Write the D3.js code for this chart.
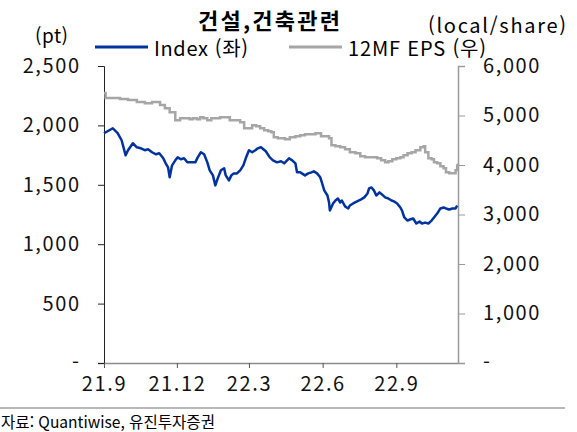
<!DOCTYPE html>
<html lang="ko">
  <head>
    <meta charset="utf-8">
    <title>건설,건축관련</title>
    <style type="text/css">
        body {
            margin: 0px;
            padding: 0px;
            background: white;
        }
        svg {
            display: block;
            font-family: "Noto Sans CJK KR", "Noto Sans", sans-serif;
        }
    </style>
    <script src="https://cdn.jsdelivr.net/npm/d3@7"></script>
  </head>

<body>
<div id="root"></div>

<script>
  // Index (left axis, pt)
  var indexDates = ["2021-09-01","2021-09-12","2021-09-18","2021-09-23","2021-09-28","2021-10-01","2021-10-07","2021-10-12",
    "2021-10-17","2021-10-22","2021-10-26","2021-10-31","2021-11-05","2021-11-09","2021-11-14","2021-11-17","2021-11-20",
    "2021-11-22","2021-11-25","2021-11-29","2021-12-02","2021-12-06","2021-12-10","2021-12-14","2021-12-19","2021-12-24",
    "2021-12-27","2021-12-31","2022-01-04","2022-01-08","2022-01-11","2022-01-15","2022-01-18","2022-01-21","2022-01-25",
    "2022-01-29","2022-01-31","2022-02-04","2022-02-07","2022-02-10","2022-02-14","2022-02-18","2022-02-22","2022-02-25",
    "2022-03-01","2022-03-05","2022-03-09","2022-03-12","2022-03-16","2022-03-19","2022-03-22","2022-03-27","2022-03-31",
    "2022-04-05","2022-04-10","2022-04-14","2022-04-20","2022-04-24","2022-04-28","2022-04-30","2022-05-04","2022-05-06",
    "2022-05-10","2022-05-14","2022-05-18","2022-05-21","2022-05-25","2022-05-29","2022-05-31","2022-06-03","2022-06-07",
    "2022-06-09","2022-06-10","2022-06-14","2022-06-17","2022-06-20","2022-06-23","2022-06-25","2022-06-29","2022-07-03",
    "2022-07-05","2022-07-09","2022-07-14","2022-07-19","2022-07-23","2022-07-27","2022-07-29","2022-08-01","2022-08-04",
    "2022-08-07","2022-08-11","2022-08-14","2022-08-18","2022-08-22","2022-08-26","2022-08-29","2022-09-02","2022-09-06",
    "2022-09-08","2022-09-11","2022-09-15","2022-09-18","2022-09-22","2022-09-26","2022-09-30","2022-10-03","2022-10-07",
    "2022-10-11","2022-10-15","2022-10-18","2022-10-22","2022-10-26","2022-10-30","2022-11-02","2022-11-06","2022-11-10",
    "2022-11-14","2022-11-16"];
  var indexValues = [1934,1976,1934,1875,1748,1791,1850,1816,
    1807,1791,1799,1774,1757,1765,1723,1681,1647,
    1563,1664,1706,1731,1715,1723,1689,1689,1689,
    1731,1774,1757,1689,1622,1579,1495,1554,1622,
    1639,1579,1537,1579,1596,1596,1622,1664,1723,
    1791,1774,1791,1807,1816,1799,1782,1731,1706,
    1689,1698,1681,1723,1706,1681,1605,1605,1596,
    1579,1596,1605,1613,1596,1563,1520,1453,1410,
    1351,1284,1343,1368,1385,1351,1368,1318,1301,
    1326,1343,1360,1377,1394,1427,1470,1478,1453,
    1410,1436,1419,1394,1385,1368,1360,1343,1309,
    1284,1225,1199,1208,1216,1174,1191,1174,1182,
    1174,1199,1225,1258,1301,1309,1301,1292,1301,
    1301,1326];

  // 12MF EPS (right axis, local/share)
  var epsDates = ["2021-09-01","2021-09-03","2021-09-21","2021-10-01","2021-10-12","2021-10-22","2021-10-31","2021-11-10",
    "2021-11-16","2021-11-22","2021-11-29","2021-12-05","2021-12-17","2021-12-21","2021-12-26","2021-12-30","2022-01-03",
    "2022-01-08","2022-01-13","2022-01-24","2022-02-05","2022-02-18","2022-02-23","2022-03-05","2022-03-10","2022-03-15",
    "2022-03-20","2022-03-25","2022-03-29","2022-04-01","2022-04-06","2022-04-15","2022-04-21","2022-04-28","2022-05-04",
    "2022-05-10","2022-05-23","2022-05-30","2022-06-09","2022-06-12","2022-06-17","2022-06-23","2022-06-29","2022-07-05",
    "2022-07-12","2022-07-18","2022-07-24","2022-08-08","2022-08-13","2022-08-18","2022-08-22","2022-08-27","2022-09-01",
    "2022-09-06","2022-09-10","2022-09-15","2022-09-20","2022-09-25","2022-10-01","2022-10-05","2022-10-07","2022-10-11",
    "2022-10-15","2022-10-18","2022-10-22","2022-10-26","2022-10-30","2022-11-02","2022-11-06","2022-11-14","2022-11-16",
    "2022-11-17"];
  var epsValues = [5453,5352,5331,5311,5271,5250,5271,5210,
    5149,5068,4906,4946,4926,4946,4926,4967,4946,
    4906,4946,4967,4906,4865,4744,4804,4784,4744,
    4703,4683,4663,4561,4541,4521,4561,4581,4602,
    4622,4642,4581,4541,4399,4379,4358,4318,4257,
    4237,4176,4156,4135,4095,4054,4075,4115,4135,
    4156,4196,4237,4257,4298,4358,4379,4257,4135,
    4115,4054,4034,3973,3933,3852,3831,3892,3992,
    4030];

  var leftTicks = [0, 500, 1000, 1500, 2000, 2500];
  var rightTicks = [0, 1000, 2000, 3000, 4000, 5000, 6000];
  var xTicks = ["2021-09-01", "2021-12-01", "2022-03-01", "2022-06-01", "2022-09-01"];

  var parse = d3.timeParse("%Y-%m-%d");
  var index = indexDates.map(function(d, i) { return {date: parse(d), value: indexValues[i]}; });
  var eps = epsDates.map(function(d, i) { return {date: parse(d), value: epsValues[i]}; });

  var svg = d3.select("#root")
    .append("svg")
    .attr("width", 577)
    .attr("height", 432);

  var x = d3.scaleTime()
    .domain([parse("2021-09-01"), parse("2022-11-17")])
    .range([104, 458]);
  var yL = d3.scaleLinear().domain([0, 2500]).range([363, 66]);
  var yR = d3.scaleLinear().domain([0, 6000]).range([363, 66]);

  var numFmt = function(d) { return d === 0 ? "-" : d3.format(",")(d); };

  // axes
  var gx = svg.append("g")
    .attr("transform", "translate(0,363)")
    .call(d3.axisBottom(x)
      .tickValues(xTicks.map(parse))
      .tickSize(5)
      .tickPadding(9)
      .tickFormat(d3.timeFormat("%y.%-m")));
  gx.select(".domain").attr("d", "M98,0.5H465").attr("stroke", "#8c8c8c").attr("stroke-width", 1.5);
  gx.selectAll(".tick line").attr("stroke", "#555");

  var gl = svg.append("g")
    .attr("transform", "translate(104,0)")
    .call(d3.axisLeft(yL).tickValues(leftTicks).tickSize(6).tickPadding(19).tickFormat(numFmt));
  gl.select(".domain").attr("d", "M-6,66.5H0.5V363").attr("stroke", "#222");
  gl.selectAll(".tick line").attr("stroke", "#222");

  var gr = svg.append("g")
    .attr("transform", "translate(458,0)")
    .call(d3.axisRight(yR).tickValues(rightTicks).tickSize(7).tickPadding(18).tickFormat(numFmt));
  gr.select(".domain").attr("d", "M7,66.5H0.5V363").attr("stroke", "#9a9a9a").attr("stroke-width", 1.5);
  gr.selectAll(".tick line").attr("stroke", "#9a9a9a");

  svg.selectAll(".tick text")
    .style("font-family", "'Noto Sans CJK KR', sans-serif")
    .style("font-size", "20px")
    .style("letter-spacing", "1.6px")
    .attr("fill", "#111");
  // letter-spacing adds a trailing gap, pull right-aligned labels back
  gl.selectAll(".tick text").attr("dx", "1.6px");

  // lines
  svg.append("path")
    .datum(eps)
    .attr("fill", "none")
    .attr("stroke", "#a6a6a6")
    .attr("stroke-width", 2.5)
    .attr("d", d3.line()
      .curve(d3.curveStepAfter)
      .x(function(d) { return x(d.date); })
      .y(function(d) { return yR(d.value); }));

  svg.append("path")
    .datum(index)
    .attr("fill", "none")
    .attr("stroke", "#0033a0")
    .attr("stroke-width", 2.5)
    .attr("stroke-linejoin", "round")
    .attr("d", d3.line()
      .x(function(d) { return x(d.date); })
      .y(function(d) { return yL(d.value); }));

  // title, units, legend
  svg.append("text")
    .attr("x", 269).attr("y", 29)
    .attr("text-anchor", "middle")
    .attr("textLength", 142)
    .style("font-size", "22px")
    .style("font-weight", "bold")
    .text("건설,건축관련");

  svg.append("text").attr("x", 35).attr("y", 43)
    .attr("textLength", 33)
    .style("font-size", "19px").text("(pt)");
  svg.append("text").attr("x", 428).attr("y", 33)
    .attr("textLength", 138)
    .style("font-size", "20px").text("(local/share)");

  var legend = [["Index (좌)", "#0033a0", 95, 94], ["12MF EPS (우)", "#a6a6a6", 289, 138]];
  legend.forEach(function(l) {
    svg.append("line")
      .attr("x1", l[2]).attr("x2", l[2] + 53)
      .attr("y1", 47).attr("y2", 47)
      .attr("stroke", l[1]).attr("stroke-width", 3);
    svg.append("text")
      .attr("x", l[2] + 59).attr("y", 56)
      .attr("textLength", l[3])
      .style("font-size", "20px")
      .text(l[0]);
  });

  // source
  svg.append("line")
    .attr("x1", 0).attr("x2", 565)
    .attr("y1", 408).attr("y2", 408)
    .attr("stroke", "#a0a0a0").attr("stroke-width", 1.5);
  svg.append("text")
    .attr("x", 1).attr("y", 428)
    .attr("textLength", 214)
    .attr("lengthAdjust", "spacingAndGlyphs")
    .style("font-size", "16px")
    .text("자료: Quantiwise, 유진투자증권");
</script>

</body>
</html>
